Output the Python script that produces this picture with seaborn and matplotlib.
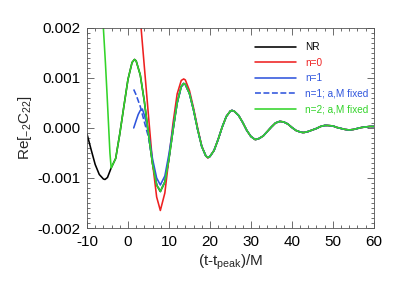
import numpy as np
import pandas as pd
import seaborn as sns
import matplotlib
matplotlib.use("Agg")
import matplotlib.pyplot as plt
from matplotlib.ticker import MultipleLocator, FormatStrFormatter

# values
t_nr = [-10, -9, -8, -7, -6, -5.6, -5, -4.1, -3, -2, -1, 0, 1, 1.6, 2, 3, 4, 5, 6, 7, 7.9,
        9, 10, 11, 12, 13, 13.6, 14, 15, 16, 17, 18, 19, 19.5, 20, 21, 22, 23, 24, 25, 25.4,
        26, 27, 28, 29, 30, 31, 31.2, 32, 33, 34, 35, 36, 37, 37.2, 38, 39, 40, 41, 42, 42.6,
        43, 44, 45, 46, 47, 48, 48.7, 50, 51, 52, 53, 54, 55, 56, 57, 58, 59, 60]
v_nr = [-0.00012, -0.00043, -0.00073, -0.00093, -0.00102, -0.00103, -0.00099, -0.0008,
        -0.00061, -0.00012, 0.00043, 0.00097, 0.00131, 0.00137, 0.00134, 0.00106, 0.00053,
        -0.00012, -0.00072, -0.00114, -0.00127, -0.00108, -0.00062, -0.00004, 0.0005, 0.00083,
        0.00089, 0.00087, 0.00069, 0.00036, -0.00003, -0.00037, -0.00056, -0.00059, -0.00057,
        -0.00045, -0.00023, 0.00002, 0.00023, 0.00034, 0.00035, 0.00033, 0.00025, 0.00011,
        -0.00005, -0.00017, -0.00023, -0.00023, -0.00021, -0.00016, -0.00007, 0.00002, 0.0001,
        0.00013, 0.00013, 0.00012, 0.00008, 0.00001, -0.00005, -0.00008, -0.00009, -0.00009,
        -0.00007, -0.00004, -0.00001, 0.00003, 0.00005, 0.00005, 0.00004, 0.00001, -0.00001,
        -0.00003, -0.00004, -0.00003, -0.00001, 0.00001, 0.00002, 0.00003, 0.00003]

# n=2 fit: steep rise before -4 then on top of NR
t_n2_early = [-6.6, -6.0, -5.5, -5.1, -4.7, -4.4]
v_n2_early = [0.003, 0.002, 0.0013, 0.00067, 0.0, -0.0005]

t_n0 = [2, 3.2, 4, 5, 6, 7, 7.9, 9, 10, 11, 12, 13, 13.6, 14, 15, 16, 17, 18, 19, 19.5]
v_n0 = [0.0031, 0.002, 0.00122, 0.00025, -0.0007, -0.00138, -0.00165, -0.0013, -0.0006,
        0.0001, 0.00068, 0.00095, 0.00098, 0.00096, 0.00075, 0.0004, 0.0, -0.00036,
        -0.00056, -0.0006]

t_n1 = [1.4, 2, 2.5, 3, 3.5, 4, 4.5, 5, 6, 7, 7.9, 9, 10, 11, 12, 13, 13.6]
v_n1 = [0.0, 0.00015, 0.00027, 0.00035, 0.00038, 0.00026, 0.0001, -0.0001, -0.00062,
        -0.001, -0.00114, -0.00096, -0.00052, 0.00001, 0.0005, 0.00082, 0.00088]

t_n1f = [1.4, 2, 3, 4, 5, 6, 7, 7.9]
v_n1f = [0.00077, 0.00066, 0.00043, 0.00012, -0.00018, -0.00068, -0.00112, -0.00127]

labels = ["NR", "n=0", "n=1", "n=1; a,M fixed", "n=2; a,M fixed"]
colors = ["black", "#ee2020", "#2f55dd", "#2f55dd", "#33d42a"]


def tail(t_start):
    # fits follow the NR ringdown after they merge
    tt = [t for t in t_nr if t > t_start]
    vv = [v for t, v in zip(t_nr, v_nr) if t > t_start]
    return tt, vv


series = {}
series["NR"] = (t_nr, v_nr)
tt, vv = tail(19.5)
series["n=0"] = (t_n0 + tt, v_n0 + vv)
tt, vv = tail(13.6)
series["n=1"] = (t_n1 + tt, v_n1 + vv)
tt, vv = tail(7.9)
series["n=1; a,M fixed"] = (t_n1f + tt, v_n1f + vv)
tt, vv = tail(-4.4)
series["n=2; a,M fixed"] = (t_n2_early + tt, v_n2_early + vv)

sns.set_style("ticks")
plt.rcParams["font.family"] = ["Liberation Sans", "DejaVu Sans"]
plt.rcParams["mathtext.default"] = "regular"
plt.rcParams["axes.unicode_minus"] = False

fig = plt.figure(figsize=(3.99, 2.85), dpi=100)
ax = fig.add_axes([0.218, 0.2, 0.719, 0.702])

for lab, col in zip(labels, colors):
    t, v = series[lab]
    df = pd.DataFrame({"t": t, "v": v})
    sns.lineplot(data=df, x="t", y="v", ax=ax, color=col, lw=1.15, sort=False,
                 linestyle="--" if "1;" in lab else "-", label=lab)

ax.set_xlim(-10, 60)
ax.set_ylim(-0.002, 0.002)
ax.xaxis.set_major_locator(MultipleLocator(10))
ax.xaxis.set_minor_locator(MultipleLocator(2))
ax.yaxis.set_major_locator(MultipleLocator(0.001))
ax.yaxis.set_minor_locator(MultipleLocator(0.0001))
ax.yaxis.set_major_formatter(FormatStrFormatter("%.3f"))
ax.tick_params(which="both", direction="in", top=True, right=True, width=0.6,
               colors="#555555", labelcolor="black", labelsize=11, pad=5)
ax.tick_params(which="major", length=5)
ax.tick_params(which="minor", length=2.5)
for s in ax.spines.values():
    s.set_linewidth(0.6)
    s.set_color("#555555")

ax.set_xlabel("(t-t$_{peak}$)/M", fontsize=11, labelpad=3)
ax.set_ylabel("Re[$_{-2}$C$_{22}$]", fontsize=11, labelpad=2)

leg = ax.legend(loc="upper left", bbox_to_anchor=(250 / 399, 1 - 37 / 285),
                bbox_transform=fig.transFigure, frameon=False, fontsize=7.2,
                handlelength=4.1, handletextpad=0.9, labelspacing=0.55, borderpad=0)
for txt, col in zip(leg.get_texts(), colors):
    txt.set_color(col)

fig.savefig("out.png", dpi=100)
